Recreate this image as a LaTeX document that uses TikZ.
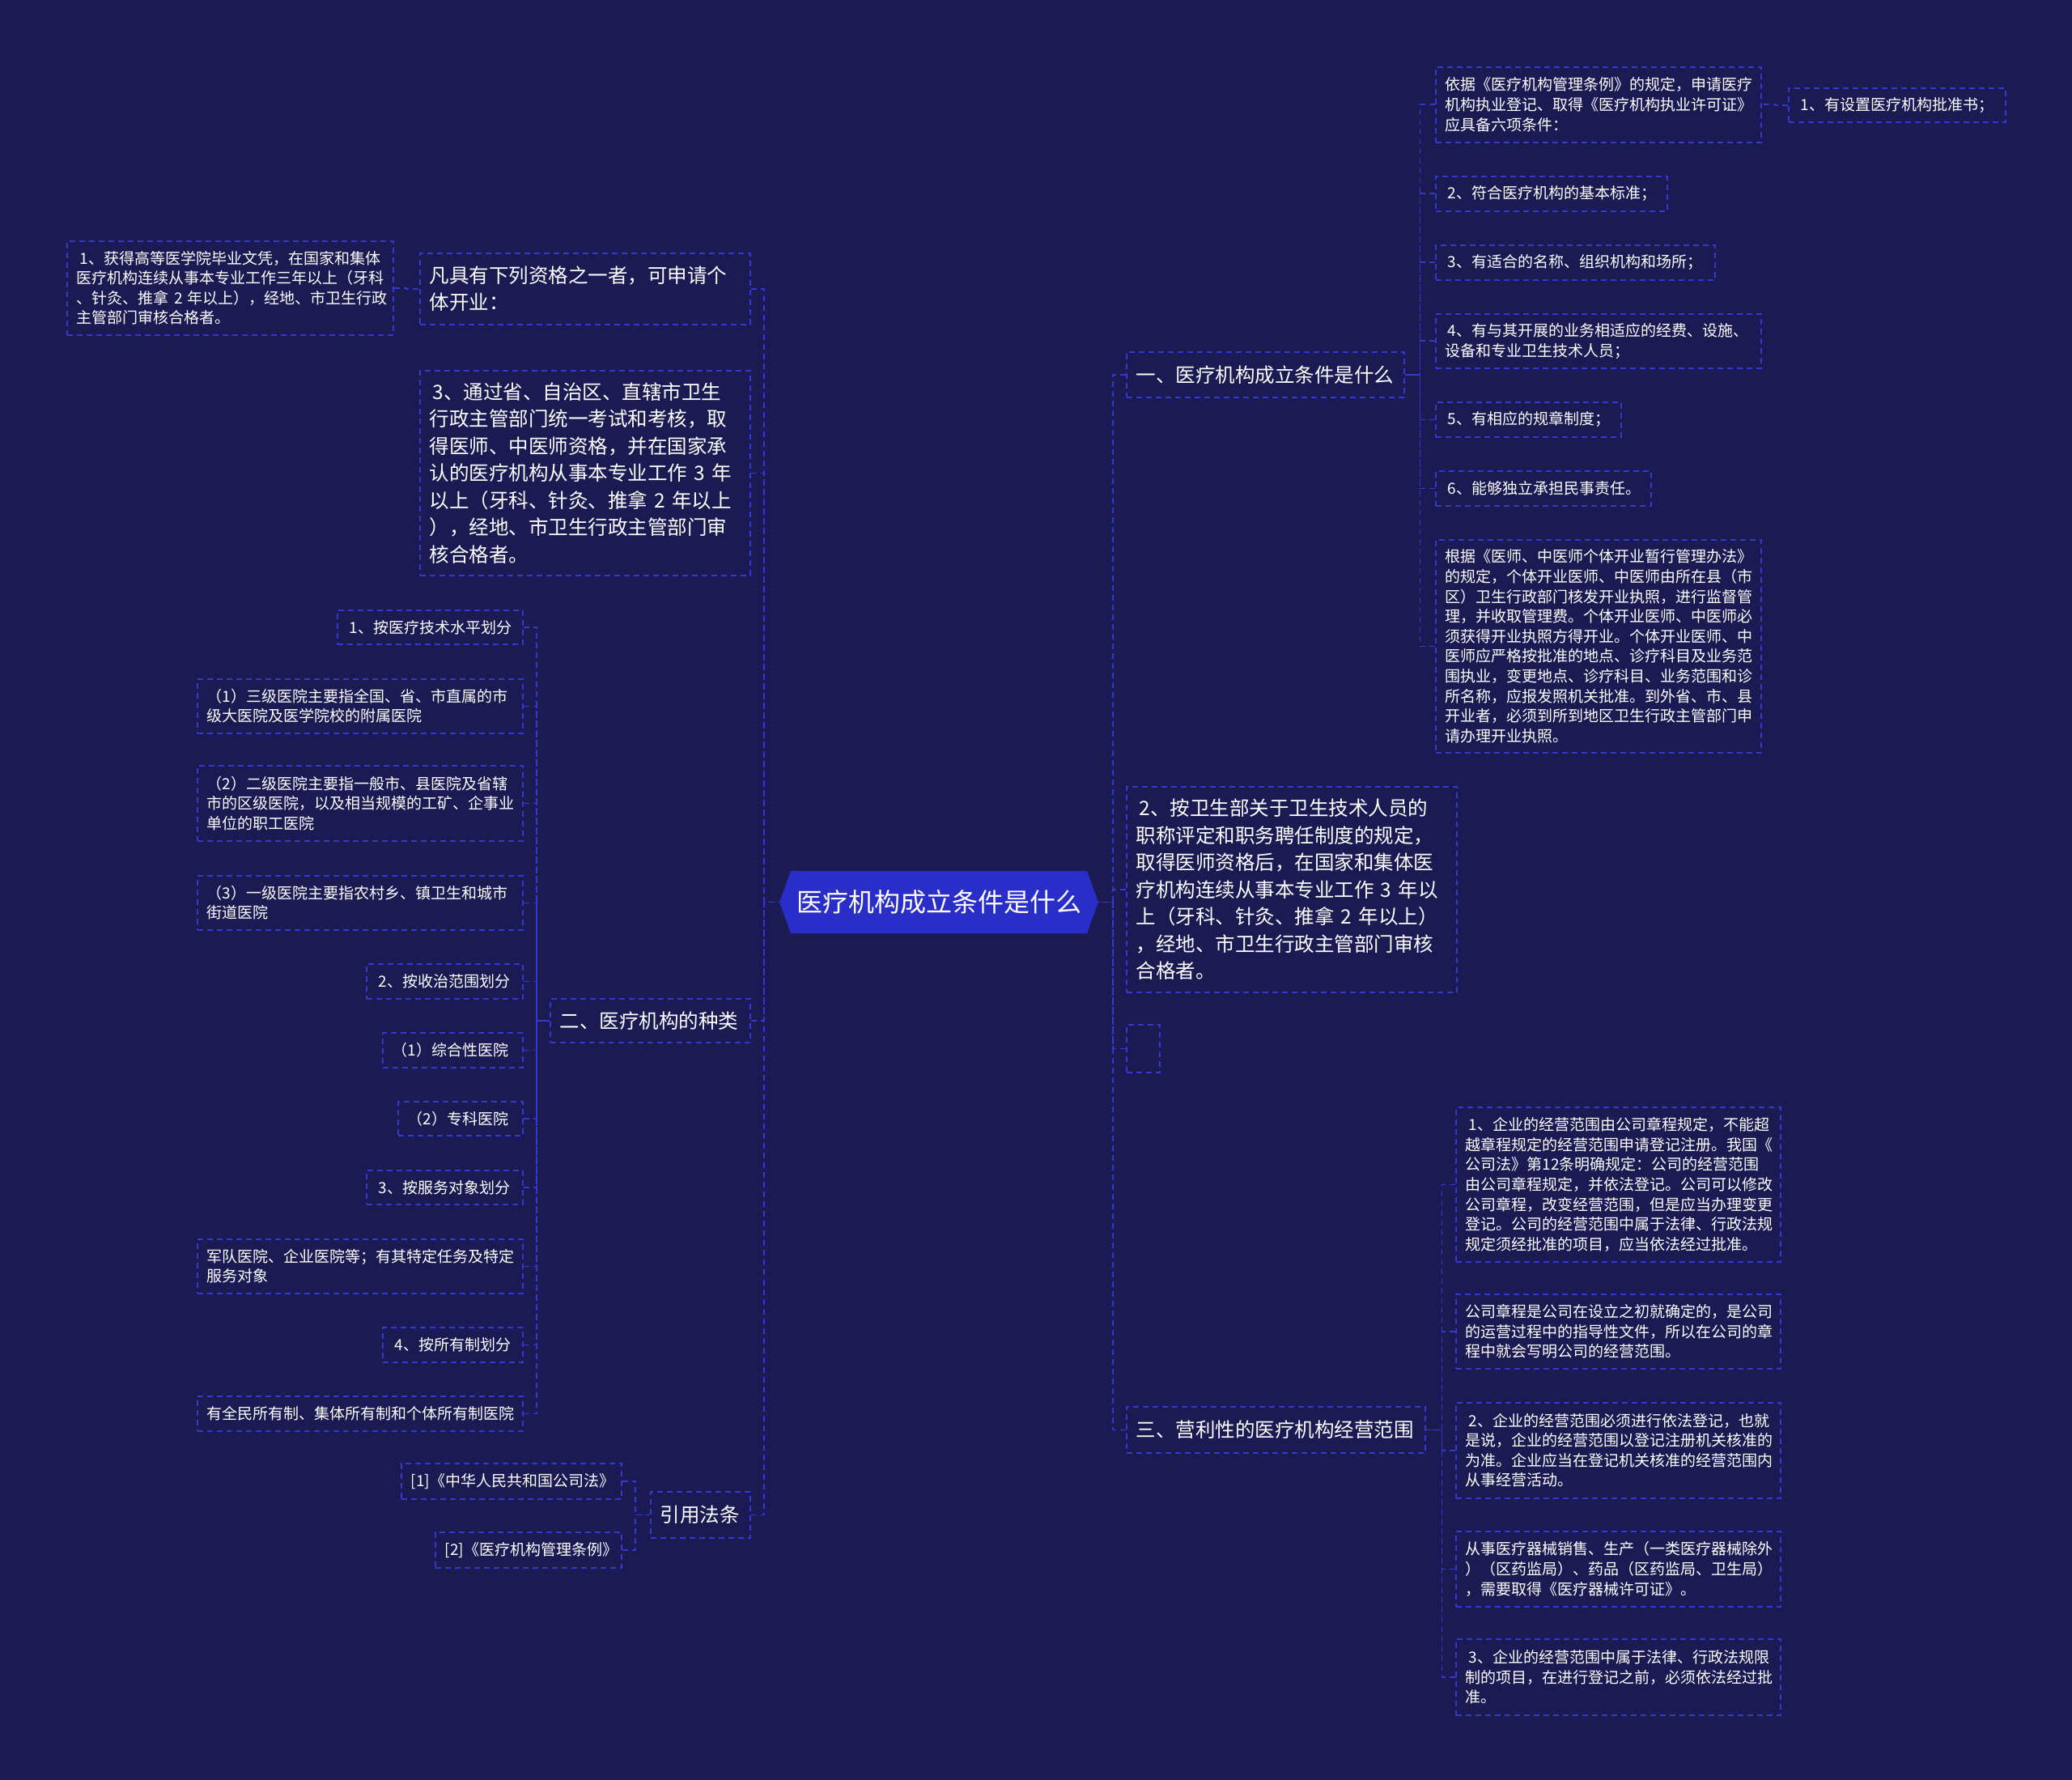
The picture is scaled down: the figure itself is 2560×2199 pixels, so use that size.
\documentclass[tikz,border=0pt]{standalone}
\usepackage{fontspec}
\setmainfont{Noto Sans CJK SC}
\usetikzlibrary{shapes.symbols}
\definecolor{bgc}{RGB}{27,26,82}
\definecolor{lnc}{RGB}{52,56,206}
\definecolor{rootc}{RGB}{42,46,200}
\tikzset{
  basebox/.style={rectangle, draw=lnc, line width=1.6pt, dash pattern=on 7pt off 5pt,
    text=white, align=left, inner xsep=12pt, inner ysep=0pt, anchor=north west},
  sbox/.style={basebox, font=\fontsize{19}{24.6}\selectfont},
  lbox/.style={basebox, font=\fontsize{24.5}{33.5}\selectfont},
  conn/.style={draw=lnc, line width=1.6pt, dash pattern=on 7pt off 5pt},
  rootnode/.style={signal, signal to=east and west, signal pointer angle=140,
    fill=rootc, text=white, font=\fontsize{32}{38}\selectfont,
    minimum width=394pt, minimum height=77pt, inner sep=0pt},
}
\newcommand{\mybox}[7]{%
  \pgfmathsetmacro{\myBW}{#5-#3}%
  \pgfmathsetmacro{\myBH}{#6-#4}%
  \pgfmathsetmacro{\myTW}{#5-#3-24}%
  \node[#1, minimum width=\myBW pt, minimum height=\myBH pt, text width=\myTW pt] (#2) at (#3,#4) {#7};}
\begin{document}
\begin{tikzpicture}[x=1pt,y=-1pt]
\fill[bgc] (0,0) rectangle (2560,2199);
\useasboundingbox (0,0) rectangle (2560,2199);

\node[rootnode] (root) at (1160,1114.5) {医疗机构成立条件是什么};

% right side
\mybox{lbox}{A0}{1391}{434}{1734}{490}{一、医疗机构成立条件是什么}
\mybox{sbox}{A1}{1773}{82}{2175}{175}{依据《医疗机构管理条例》的规定，申请医疗\\机构执业登记、取得《医疗机构执业许可证》\\应具备六项条件：}
\mybox{sbox}{A1a}{2209}{108}{2477}{150}{\hspace{3pt}1、有设置医疗机构批准书；}
\mybox{sbox}{A2}{1773}{217}{2059}{260}{\hspace{3pt}2、符合医疗机构的基本标准；}
\mybox{sbox}{A3}{1773}{302}{2118}{345}{\hspace{3pt}3、有适合的名称、组织机构和场所；}
\mybox{sbox}{A4}{1773}{387}{2175}{454}{\hspace{3pt}4、有与其开展的业务相适应的经费、设施、\\设备和专业卫生技术人员；}
\mybox{sbox}{A5}{1773}{496}{2002}{539}{\hspace{3pt}5、有相应的规章制度；}
\mybox{sbox}{A6}{1773}{581}{2039}{624}{\hspace{3pt}6、能够独立承担民事责任。}
\mybox{sbox}{A7}{1773}{666}{2175}{929}{根据《医师、中医师个体开业暂行管理办法》\\的规定，个体开业医师、中医师由所在县（市\\区）卫生行政部门核发开业执照，进行监督管\\理，并收取管理费。个体开业医师、中医师必\\须获得开业执照方得开业。个体开业医师、中\\医师应严格按批准的地点、诊疗科目及业务范\\围执业，变更地点、诊疗科目、业务范围和诊\\所名称，应报发照机关批准。到外省、市、县\\开业者，必须到所到地区卫生行政主管部门申\\请办理开业执照。}
\mybox{lbox}{B}{1391}{971}{1799}{1225}{\hspace{4pt}2、按卫生部关于卫生技术人员的\\职称评定和职务聘任制度的规定，\\取得医师资格后，在国家和集体医\\疗机构连续从事本专业工作~3~年以\\上（牙科、针灸、推拿~2~年以上）\\，经地、市卫生行政主管部门审核\\合格者。}
\mybox{sbox}{C}{1391}{1265}{1432}{1324}{}
\mybox{lbox}{D0}{1391}{1737}{1760}{1794}{三、营利性的医疗机构经营范围}
\mybox{sbox}{D1}{1798}{1367}{2199}{1558}{\hspace{4pt}1、企业的经营范围由公司章程规定，不能超\\越章程规定的经营范围申请登记注册。我国《\\公司法》第12条明确规定：公司的经营范围\\由公司章程规定，并依法登记。公司可以修改\\公司章程，改变经营范围，但是应当办理变更\\登记。公司的经营范围中属于法律、行政法规\\规定须经批准的项目，应当依法经过批准。}
\mybox{sbox}{D2}{1798}{1598}{2199}{1690}{公司章程是公司在设立之初就确定的，是公司\\的运营过程中的指导性文件，所以在公司的章\\程中就会写明公司的经营范围。}
\mybox{sbox}{D3}{1798}{1732}{2199}{1850}{\hspace{4pt}2、企业的经营范围必须进行依法登记，也就\\是说，企业的经营范围以登记注册机关核准的\\为准。企业应当在登记机关核准的经营范围内\\从事经营活动。}
\mybox{sbox}{D4}{1798}{1891}{2199}{1984}{从事医疗器械销售、生产（一类医疗器械除外\\）（区药监局）、药品（区药监局、卫生局）\\，需要取得《医疗器械许可证》。}
\mybox{sbox}{D5}{1798}{2024}{2199}{2118}{\hspace{4pt}3、企业的经营范围中属于法律、行政法规限\\制的项目，在进行登记之前，必须依法经过批\\准。}

% left side
\mybox{lbox}{E0}{518}{312}{926}{400}{凡具有下列资格之一者，可申请个\\体开业：}
\mybox{sbox}{E1}{82}{297}{485}{413}{\hspace{4pt}1、获得高等医学院毕业文凭，在国家和集体\\医疗机构连续从事本专业工作三年以上（牙科\\、针灸、推拿~2~年以上），经地、市卫生行政\\主管部门审核合格者。}
\mybox{lbox}{F}{518}{457}{926}{710}{\hspace{4pt}3、通过省、自治区、直辖市卫生\\行政主管部门统一考试和考核，取\\得医师、中医师资格，并在国家承\\认的医疗机构从事本专业工作~3~年\\以上（牙科、针灸、推拿~2~年以上\\），经地、市卫生行政主管部门审\\核合格者。}
\mybox{lbox}{G0}{679}{1233}{926}{1287}{二、医疗机构的种类}
\mybox{sbox}{G1}{416}{753}{645}{795}{\hspace{3pt}1、按医疗技术水平划分}
\mybox{sbox}{G2}{243}{838}{645}{905}{（1）三级医院主要指全国、省、市直属的市\\级大医院及医学院校的附属医院}
\mybox{sbox}{G3}{243}{945}{645}{1038}{（2）二级医院主要指一般市、县医院及省辖\\市的区级医院，以及相当规模的工矿、企事业\\单位的职工医院}
\mybox{sbox}{G4}{243}{1081}{645}{1148}{（3）一级医院主要指农村乡、镇卫生和城市\\街道医院}
\mybox{sbox}{G5}{452}{1190}{645}{1233}{\hspace{3pt}2、按收治范围划分}
\mybox{sbox}{G6}{472}{1275}{645}{1318}{（1）综合性医院}
\mybox{sbox}{G7}{491}{1360}{645}{1402}{（2）专科医院}
\mybox{sbox}{G8}{452}{1445}{645}{1487}{\hspace{3pt}3、按服务对象划分}
\mybox{sbox}{G9}{243}{1530}{645}{1597}{军队医院、企业医院等；有其特定任务及特定\\服务对象}
\mybox{sbox}{G10}{472}{1639}{645}{1682}{\hspace{3pt}4、按所有制划分}
\mybox{sbox}{G11}{243}{1724}{645}{1767}{有全民所有制、集体所有制和个体所有制医院}
\mybox{lbox}{H0}{803}{1842}{926}{1899}{引用法条}
\mybox{sbox}{H1}{495}{1807}{767}{1851}{[1]《中华人民共和国公司法》}
\mybox{sbox}{H2}{537}{1892}{767}{1936}{[2]《医疗机构管理条例》}

% connectors (drawn from child to parent)
\foreach \c in {A0,B,C,D0} \draw[conn] (\c.west) -| ([xshift=18pt]root.east) -- (root.east);
\foreach \c in {E0,F,G0,H0} \draw[conn] (\c.east) -| ([xshift=-19pt]root.west) -- (root.west);
\foreach \c in {A1,A2,A3,A4,A5,A6,A7} \draw[conn] (\c.west) -| ([xshift=19pt]A0.east) -- (A0.east);
\draw[conn] (A1a.west) -| ([xshift=17pt]A1.east) -- (A1.east);
\foreach \c in {D1,D2,D3,D4,D5} \draw[conn] (\c.west) -| ([xshift=20pt]D0.east) -- (D0.east);
\draw[conn] (E1.east) -| ([xshift=-16pt]E0.west) -- (E0.west);
\foreach \i in {1,...,11} \draw[conn] (G\i.east) -| ([xshift=-16pt]G0.west) -- (G0.west);
\foreach \c in {H1,H2} \draw[conn] (\c.east) -| ([xshift=-18pt]H0.west) -- (H0.west);
\end{tikzpicture}
\end{document}
